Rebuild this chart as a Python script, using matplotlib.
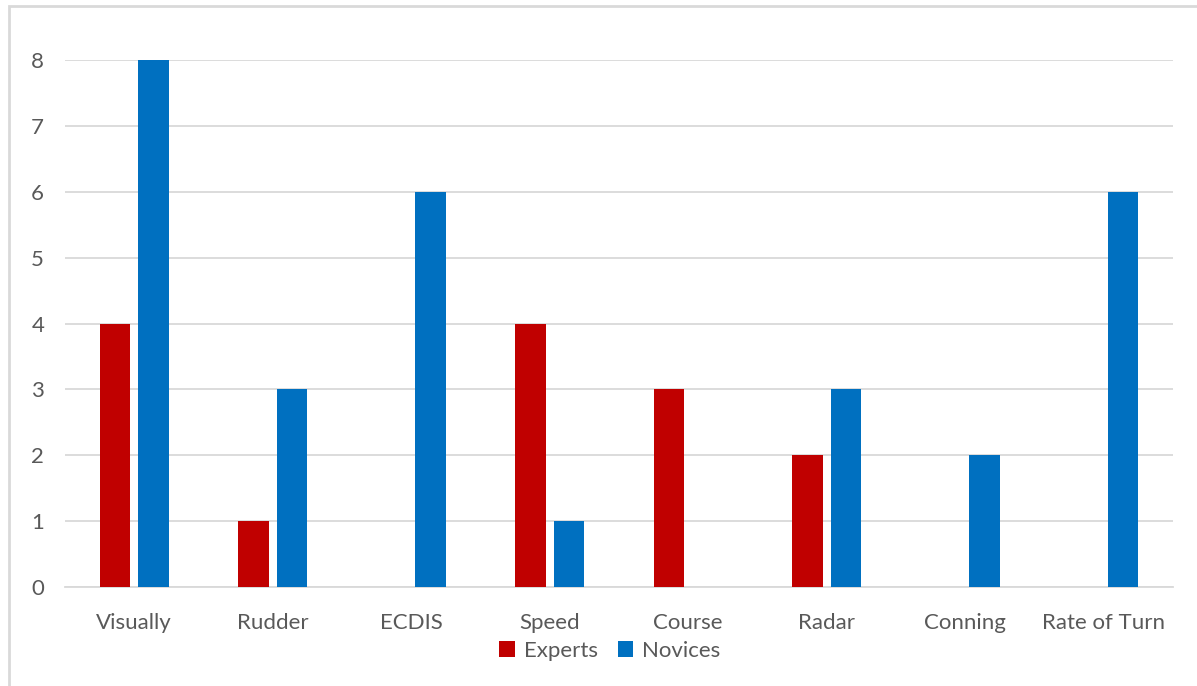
import numpy as np
import matplotlib
matplotlib.use("Agg")
import matplotlib.pyplot as plt
from matplotlib.patches import Rectangle

# dados
categorias = ["Visually", "Rudder", "ECDIS", "Speed", "Course", "Radar", "Conning", "Rate of Turn"]
experts = [4, 1, 0, 4, 3, 2, 0, 0]
novices = [8, 3, 6, 1, 0, 3, 2, 6]

plt.rcParams['font.family'] = ['Lato', 'DejaVu Sans']

W, H = 1197, 686
fig = plt.figure(figsize=(W / 100, H / 100), dpi=100)

# moldura cinza da area do grafico
fig.patches.append(Rectangle((9 / W, -0.05), 1.2, (686 - 6) / H + 0.05,
                             transform=fig.transFigure, fill=False,
                             edgecolor="#D9D9D9", linewidth=2))

ax = fig.add_axes([65 / W, 1 - 587 / H, (1173 - 65) / W, (587 - 60) / H])

x = np.arange(len(categorias))
largura = 0.22
desloc = 0.139
ax.bar(x - desloc, experts, largura, color="#C00000", label="Experts", zorder=3)
ax.bar(x + desloc, novices, largura, color="#0070C0", label="Novices", zorder=3)

ax.set_xlim(-0.5, len(categorias) - 0.5)
ax.set_ylim(0, 8)
ax.set_yticks(range(0, 9))
ax.set_xticks(x)
ax.set_xticklabels(categorias)
ax.grid(axis="y", color="#D9D9D9", linewidth=1.3, zorder=0)
for s in ["top", "right", "left"]:
    ax.spines[s].set_visible(False)
ax.spines["bottom"].set_color("#D9D9D9")
ax.spines["bottom"].set_linewidth(1.3)
ax.tick_params(axis="both", length=0, labelsize=16, labelcolor="#595959")
ax.tick_params(axis="x", pad=19)
ax.tick_params(axis="y", pad=15)

fig.legend(loc="center", bbox_to_anchor=(610 / W, 1 - 651 / H), ncol=2,
           frameon=False, fontsize=16, labelcolor="#595959",
           handlelength=0.7, handleheight=0.7, handletextpad=0.4, columnspacing=0.9)

fig.savefig("out.png", dpi=100)
